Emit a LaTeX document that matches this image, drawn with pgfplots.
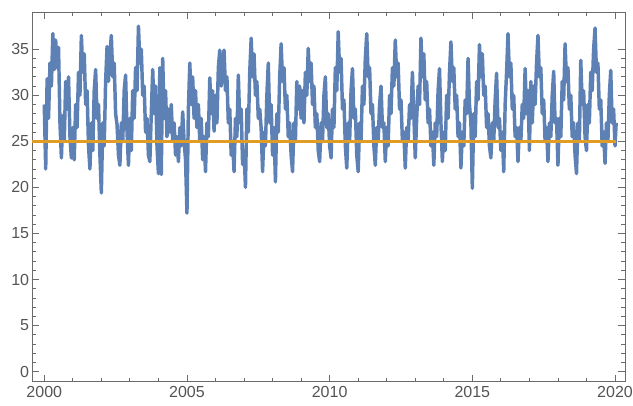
\documentclass[border=0pt]{standalone}
\usepackage{fontspec}
\setmainfont{Liberation Sans}
\usepackage{pgfplots}
\usepackage{pgfplotstable}
\pgfplotsset{compat=1.18}
\definecolor{mblue}{rgb}{0.368417,0.506779,0.709798}
\definecolor{morange}{rgb}{0.880722,0.611041,0.142051}
\definecolor{framegray}{gray}{0.42}
\definecolor{labelgray}{gray}{0.33}
\pgfplotstableread{
x y
2000.00 29.0
2000.05 22.0
2000.10 31.8
2000.15 27.5
2000.20 33.5
2000.25 31.0
2000.30 36.7
2000.35 32.8
2000.40 36.0
2000.45 33.0
2000.50 35.2
2000.55 27.0
2000.60 23.2
2000.65 27.8
2000.70 25.0
2000.75 31.5
2000.80 28.5
2000.85 32.0
2000.90 25.5
2000.95 23.2
2001.00 26.5
2001.05 23.0
2001.10 29.0
2001.15 26.5
2001.20 32.5
2001.25 30.0
2001.30 36.5
2001.35 32.5
2001.40 34.5
2001.45 29.0
2001.50 30.5
2001.55 24.5
2001.60 22.0
2001.65 27.0
2001.70 24.0
2001.75 30.5
2001.80 32.8
2001.85 27.5
2001.90 29.0
2001.95 23.5
2002.00 19.4
2002.05 27.0
2002.10 24.5
2002.15 31.5
2002.20 35.3
2002.25 31.5
2002.30 34.5
2002.35 36.5
2002.40 32.0
2002.45 33.5
2002.50 28.0
2002.55 26.8
2002.60 23.5
2002.65 22.4
2002.70 27.0
2002.75 25.0
2002.80 30.5
2002.85 32.2
2002.90 26.0
2002.95 22.4
2003.00 27.5
2003.05 24.0
2003.10 30.5
2003.15 27.5
2003.20 33.0
2003.25 30.5
2003.30 37.5
2003.35 33.5
2003.40 35.0
2003.45 30.0
2003.50 31.0
2003.55 26.0
2003.60 27.5
2003.65 23.5
2003.70 22.8
2003.75 28.0
2003.80 32.8
2003.85 28.0
2003.90 31.0
2003.95 24.5
2004.00 21.5
2004.05 33.0
2004.10 21.4
2004.15 34.0
2004.20 27.5
2004.25 30.5
2004.30 25.5
2004.35 28.5
2004.40 26.0
2004.45 29.0
2004.50 25.0
2004.55 27.0
2004.60 23.5
2004.65 25.5
2004.70 22.8
2004.75 26.5
2004.80 24.5
2004.85 28.2
2004.90 25.0
2004.95 23.0
2005.00 17.2
2005.05 28.5
2005.10 33.5
2005.15 29.0
2005.20 32.0
2005.25 27.5
2005.30 30.5
2005.35 26.5
2005.40 29.0
2005.45 25.0
2005.50 27.5
2005.55 23.0
2005.60 25.5
2005.65 21.7
2005.70 27.0
2005.75 25.5
2005.80 31.9
2005.85 28.0
2005.90 30.5
2005.95 26.1
2006.00 30.0
2006.05 27.0
2006.10 33.0
2006.15 34.9
2006.20 31.0
2006.25 33.5
2006.30 34.9
2006.35 30.5
2006.40 32.0
2006.45 27.0
2006.50 28.5
2006.55 23.5
2006.60 25.0
2006.65 21.7
2006.70 27.5
2006.75 25.5
2006.80 32.2
2006.85 27.0
2006.90 28.5
2006.95 22.5
2007.00 24.0
2007.05 20.0
2007.10 28.5
2007.15 26.0
2007.20 32.5
2007.25 36.2
2007.30 32.0
2007.35 34.5
2007.40 30.0
2007.45 31.5
2007.50 27.5
2007.55 28.5
2007.60 26.4
2007.65 21.7
2007.70 26.0
2007.75 24.5
2007.80 30.0
2007.85 33.5
2007.90 27.0
2007.95 29.0
2008.00 23.5
2008.05 26.5
2008.10 20.6
2008.15 28.0
2008.20 26.0
2008.25 32.0
2008.30 35.6
2008.35 31.5
2008.40 33.0
2008.45 28.5
2008.50 30.0
2008.55 25.5
2008.60 27.0
2008.65 23.5
2008.70 21.7
2008.75 27.0
2008.80 25.0
2008.85 31.5
2008.90 28.5
2008.95 31.0
2009.00 27.5
2009.05 30.5
2009.10 27.0
2009.15 32.5
2009.20 30.0
2009.25 35.1
2009.30 31.5
2009.35 33.5
2009.40 29.0
2009.45 31.0
2009.50 26.5
2009.55 28.0
2009.60 24.0
2009.65 22.8
2009.70 27.0
2009.75 25.0
2009.80 30.0
2009.85 32.0
2009.90 26.5
2009.95 28.0
2010.00 24.5
2010.05 23.2
2010.10 28.5
2010.15 26.5
2010.20 33.0
2010.25 30.5
2010.30 36.9
2010.35 32.5
2010.40 34.0
2010.45 28.5
2010.50 29.5
2010.55 24.5
2010.60 22.1
2010.65 27.0
2010.70 25.0
2010.75 30.5
2010.80 32.9
2010.85 27.5
2010.90 28.5
2010.95 23.5
2011.00 21.7
2011.05 27.0
2011.10 25.0
2011.15 31.0
2011.20 29.0
2011.25 34.0
2011.30 36.7
2011.35 32.0
2011.40 33.0
2011.45 28.0
2011.50 29.0
2011.55 24.5
2011.60 22.4
2011.65 26.5
2011.70 25.0
2011.75 29.0
2011.80 31.0
2011.85 26.5
2011.90 27.0
2011.95 22.8
2012.00 26.5
2012.05 24.5
2012.10 30.0
2012.15 28.0
2012.20 33.0
2012.25 31.0
2012.30 36.0
2012.35 32.0
2012.40 33.5
2012.45 28.5
2012.50 29.5
2012.55 25.0
2012.60 26.0
2012.65 22.1
2012.70 26.5
2012.75 25.0
2012.80 29.0
2012.85 27.5
2012.90 32.5
2012.95 28.0
2013.00 23.2
2013.05 27.5
2013.10 31.0
2013.15 29.0
2013.20 36.2
2013.25 32.0
2013.30 34.5
2013.35 29.5
2013.40 31.5
2013.45 27.0
2013.50 28.5
2013.55 24.5
2013.60 26.0
2013.65 22.4
2013.70 27.0
2013.75 25.5
2013.80 30.5
2013.85 32.9
2013.90 27.0
2013.95 22.8
2014.00 26.0
2014.05 24.0
2014.10 30.0
2014.15 27.5
2014.20 32.5
2014.25 35.8
2014.30 31.5
2014.35 33.0
2014.40 28.5
2014.45 30.0
2014.50 25.5
2014.55 27.0
2014.60 22.1
2014.65 26.0
2014.70 24.5
2014.75 29.5
2014.80 28.0
2014.85 34.0
2014.90 29.0
2014.95 27.0
2015.00 19.9
2015.05 28.0
2015.10 25.5
2015.15 31.5
2015.20 29.5
2015.25 35.5
2015.30 32.0
2015.35 34.5
2015.40 30.0
2015.45 31.0
2015.50 26.5
2015.55 28.0
2015.60 24.5
2015.65 23.2
2015.70 27.0
2015.75 25.0
2015.80 29.5
2015.85 32.4
2015.90 26.5
2015.95 27.5
2016.00 24.0
2016.05 26.0
2016.10 21.7
2016.15 29.0
2016.20 32.5
2016.25 36.7
2016.30 32.0
2016.35 33.5
2016.40 28.5
2016.45 30.0
2016.50 25.5
2016.55 26.5
2016.60 22.8
2016.65 26.5
2016.70 25.0
2016.75 29.0
2016.80 27.5
2016.85 32.9
2016.90 28.0
2016.95 30.5
2017.00 24.0
2017.05 31.5
2017.10 27.0
2017.15 31.0
2017.20 29.0
2017.25 33.5
2017.30 36.5
2017.35 32.0
2017.40 33.0
2017.45 28.0
2017.50 29.5
2017.55 25.0
2017.60 26.5
2017.65 22.8
2017.70 27.0
2017.75 25.5
2017.80 30.0
2017.85 32.6
2017.90 27.0
2017.95 27.5
2018.00 22.4
2018.05 27.5
2018.10 25.5
2018.15 31.5
2018.20 29.5
2018.25 35.6
2018.30 31.5
2018.35 33.0
2018.40 28.5
2018.45 30.0
2018.50 25.5
2018.55 27.0
2018.60 23.5
2018.65 21.5
2018.70 27.0
2018.75 25.0
2018.80 33.8
2018.85 29.0
2018.90 30.5
2018.95 25.5
2019.00 24.0
2019.05 29.0
2019.10 27.0
2019.15 32.5
2019.20 30.5
2019.25 35.0
2019.30 37.3
2019.35 32.5
2019.40 33.5
2019.45 28.5
2019.50 29.5
2019.55 24.5
2019.60 26.0
2019.65 22.6
2019.70 27.0
2019.75 25.0
2019.80 30.0
2019.85 32.7
2019.90 27.0
2019.95 28.5
2020.00 24.5
2020.04 27.0
}\tempdata
\begin{document}
\begin{tikzpicture}
\begin{axis}[name=ax, scale only axis, width=444.75pt, height=276.75pt,
  xmin=1999.57, xmax=2020.35, ymin=-1.09, ymax=38.97,
  xtick={2000,2005,2010,2015,2020}, ytick={0,5,...,35},
  minor x tick num=4, minor y tick num=4,
  tick align=inside, major tick length=5pt, minor tick length=2.8pt,
  axis line style={framegray, line width=0.6pt},
  every tick/.style={framegray, line width=0.6pt},
  ticklabel style={font=\fontsize{12}{14}\selectfont, text=labelgray},
  yticklabel style={inner sep=2pt},
  /pgf/number format/assume math mode=true,
  /pgf/number format/1000 sep={},
  scaled ticks=false,
]
\addplot[mblue, line width=2.6pt, line join=round] table[x=x,y=y] {\tempdata};
\addplot[morange, line width=1.9pt] coordinates {(1999.57,25) (2020.05,25)};
\end{axis}
\pgfresetboundingbox
\path[use as bounding box] ([xshift=-24pt,yshift=-18.2pt]ax.south west) rectangle ([xshift=6pt,yshift=9.5pt]ax.north east);
\end{tikzpicture}
\end{document}
